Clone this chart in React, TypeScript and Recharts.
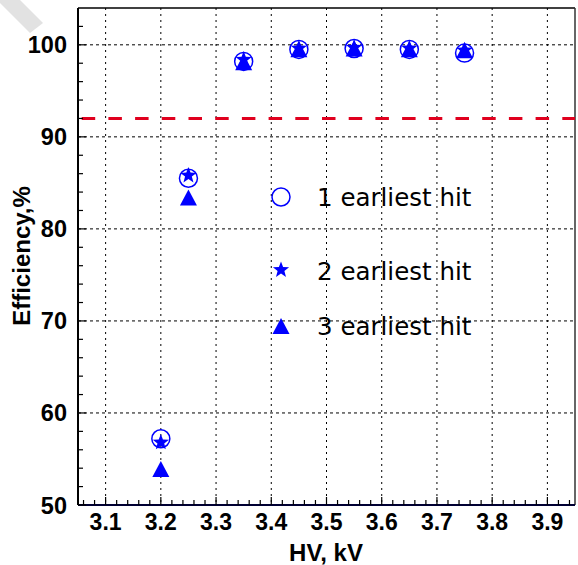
import {
  ScatterChart, Scatter, XAxis, YAxis, CartesianGrid, ReferenceLine,
} from "recharts"

// HV points (kV) and efficiency (%) for each hit selection
const hv = [3.2, 3.25, 3.35, 3.45, 3.55, 3.65, 3.75]
const hit1 = [57.2, 85.5, 98.2, 99.5, 99.6, 99.5, 99.1]
const hit2 = [56.8, 85.8, 98.4, 99.6, 99.7, 99.6, 99.4]
const hit3 = [53.8, 83.3, 98.0, 99.4, 99.5, 99.4, 99.3]
const threshold = 92

const xMajor = [3.1, 3.2, 3.3, 3.4, 3.5, 3.6, 3.7, 3.8, 3.9]
const xTicks = [3.06, 3.08, 3.1, 3.12, 3.14, 3.16, 3.18, 3.2, 3.22, 3.24, 3.26, 3.28, 3.3,
  3.32, 3.34, 3.36, 3.38, 3.4, 3.42, 3.44, 3.46, 3.48, 3.5, 3.52, 3.54, 3.56, 3.58, 3.6,
  3.62, 3.64, 3.66, 3.68, 3.7, 3.72, 3.74, 3.76, 3.78, 3.8, 3.82, 3.84, 3.86, 3.88, 3.9,
  3.92, 3.94]
const yMajor = [50, 60, 70, 80, 90, 100]
const yTicks = [50, 52, 54, 56, 58, 60, 62, 64, 66, 68, 70, 72, 74, 76, 78, 80, 82, 84, 86,
  88, 90, 92, 94, 96, 98, 100, 102]

const legendItems = ["1 earliest hit", "2 earliest hit", "3 earliest hit"]

const BLUE = "#0000ff"
const FONT = "'Liberation Sans', Arial, sans-serif"

const toRows = (ys: number[]) => hv.map((x, i) => ({ x, y: ys[i] }))

function starPath(cx: number, cy: number, R: number) {
  const r = R * 0.42
  let d = ""
  for (let i = 0; i < 10; i++) {
    const rad = i % 2 === 0 ? R : r
    const a = -Math.PI / 2 + (i * Math.PI) / 5
    d += (i === 0 ? "M" : "L") + (cx + rad * Math.cos(a)).toFixed(2) + "," + (cy + rad * Math.sin(a)).toFixed(2)
  }
  return d + "Z"
}

const CircleMark = ({ cx, cy }: any) => (
  <circle cx={cx} cy={cy} r={9} fill="none" stroke={BLUE} strokeWidth={1.5} />
)
const StarMark = ({ cx, cy }: any) => <path d={starPath(cx, cy, 8.5)} fill={BLUE} />
const TriMark = ({ cx, cy }: any) => (
  <path d={`M${cx},${cy - 9}L${cx + 8.5},${cy + 7}L${cx - 8.5},${cy + 7}Z`} fill={BLUE} />
)

const XTick = ({ x, y, payload }: any) => {
  const v = payload.value
  const major = xMajor.some((m) => Math.abs(m - v) < 1e-6)
  return (
    <g>
      <line x1={x} y1={y} x2={x} y2={y - (major ? 8 : 5)} stroke="#000" strokeWidth={1.2} />
      {major && (
        <text x={x} y={y + 25} textAnchor="middle" fontFamily={FONT} fontWeight="bold" fontSize={23} fill="#000">
          {v.toFixed(1)}
        </text>
      )}
    </g>
  )
}

const YTick = ({ x, y, payload }: any) => {
  const v = payload.value
  const major = yMajor.includes(v)
  return (
    <g>
      <line x1={x} y1={y} x2={x + (major ? 8 : 5)} y2={y} stroke="#000" strokeWidth={1.2} />
      {major && (
        <text x={x - 11} y={y + 8.5} textAnchor="end" fontFamily={FONT} fontWeight="bold" fontSize={23.5} fill="#000">
          {v}
        </text>
      )}
    </g>
  )
}

export default function App() {
  return (
    <div style={{ position: "absolute", left: 0, top: 0, width: 578, height: 565, background: "#fff" }}>
      <svg width={578} height={565} style={{ position: "absolute", left: 0, top: 0 }}>
        <polygon points="0,0 20,0 43,23 30,33 0,3" fill="#e2e2e2" />
      </svg>
      <div style={{ position: "absolute", left: 0, top: 0 }}>
        <ScatterChart width={578} height={565} margin={{ top: 8, right: 3, left: 0, bottom: 0 }}>
          <CartesianGrid horizontal={false} verticalValues={xMajor} stroke="#000" strokeDasharray="2 4" />
          <CartesianGrid vertical={false} horizontalValues={[60, 70, 80, 90, 100]} stroke="#000" strokeDasharray="3 3" />
          <XAxis
            type="number"
            dataKey="x"
            domain={[3.05, 3.95]}
            ticks={xTicks}
            interval={0}
            allowDataOverflow
            height={60}
            tickSize={0}
            tickMargin={0}
            tickLine={false}
            axisLine={{ stroke: "#000033", strokeWidth: 2 }}
            tick={<XTick />}
          />
          <YAxis
            type="number"
            dataKey="y"
            domain={[50, 104]}
            ticks={yTicks}
            interval={0}
            allowDataOverflow
            width={78}
            tickSize={0}
            tickMargin={0}
            tickLine={false}
            axisLine={{ stroke: "#000", strokeWidth: 2 }}
            tick={<YTick />}
          />
          <ReferenceLine y={104} stroke="#000" strokeWidth={1.5} />
          <ReferenceLine x={3.95} stroke="#333" strokeWidth={1.5} />
          <ReferenceLine y={threshold} stroke="#e0001e" strokeWidth={3} strokeDasharray="13.5 13.2" strokeDashoffset={-3.7} />
          <Scatter data={toRows(hit1)} shape={<CircleMark />} isAnimationActive={false} />
          <Scatter data={toRows(hit2)} shape={<StarMark />} isAnimationActive={false} />
          <Scatter data={toRows(hit3)} shape={<TriMark />} isAnimationActive={false} />
        </ScatterChart>
      </div>
      <svg width={578} height={565} style={{ position: "absolute", left: 0, top: 0, pointerEvents: "none" }}>
        <CircleMark cx={281} cy={197} />
        <StarMark cx={281} cy={270} />
        <TriMark cx={281} cy={327} />
        {legendItems.map((t, i) => (
          <text key={t} x={317} y={[206, 280, 335][i]} fontFamily="'DejaVu Sans', sans-serif" fontSize={24.5} fill="#000">
            {t}
          </text>
        ))}
        <text x={326} y={561} textAnchor="middle" fontFamily={FONT} fontWeight="bold" fontSize={24} fill="#000">
          HV, kV
        </text>
        <text
          x={30}
          y={256}
          transform="rotate(-90 30 256)"
          textAnchor="middle"
          fontFamily={FONT}
          fontWeight="bold"
          fontSize={24}
          fill="#000"
        >
          Efficiency,%
        </text>
      </svg>
    </div>
  )
}
